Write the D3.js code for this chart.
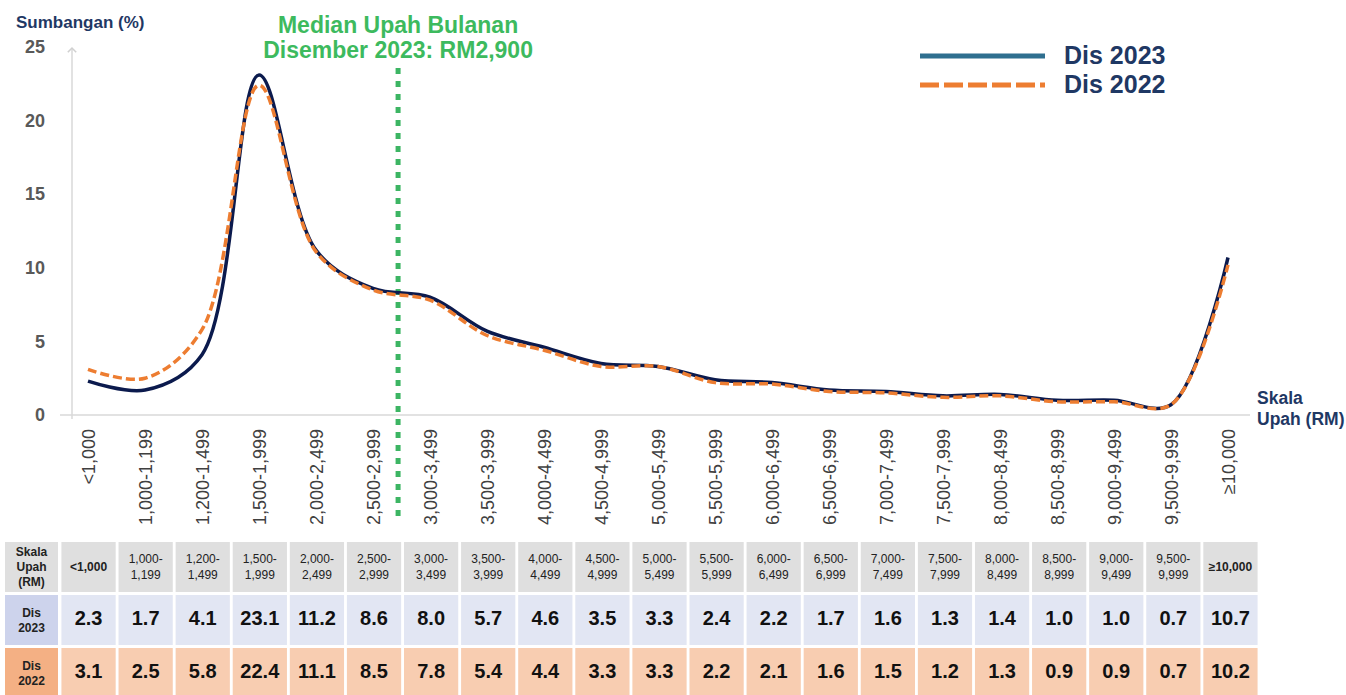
<!DOCTYPE html>
<html><head><meta charset="utf-8">
<script src="https://cdn.jsdelivr.net/npm/d3@7/dist/d3.min.js"></script>
<style>
html,body{margin:0;padding:0;background:#fff;}
svg{display:block;font-family:"Liberation Sans",Arial,sans-serif;}
</style></head>
<body><svg id="c" width="1346" height="695"></svg>
<script>
const categories = ["<1,000","1,000-1,199","1,200-1,499","1,500-1,999","2,000-2,499","2,500-2,999","3,000-3,499","3,500-3,999","4,000-4,499","4,500-4,999","5,000-5,499","5,500-5,999","6,000-6,499","6,500-6,999","7,000-7,499","7,500-7,999","8,000-8,499","8,500-8,999","9,000-9,499","9,500-9,999","≥10,000"];
const dis2023 = [2.3,1.7,4.1,23.1,11.2,8.6,8.0,5.7,4.6,3.5,3.3,2.4,2.2,1.7,1.6,1.3,1.4,1.0,1.0,0.7,10.7];
const dis2022 = [3.1,2.5,5.8,22.4,11.1,8.5,7.8,5.4,4.4,3.3,3.3,2.2,2.1,1.6,1.5,1.2,1.3,0.9,0.9,0.7,10.2];
const yTicks = [0,5,10,15,20,25];
const seriesNames = ["Dis 2023","Dis 2022"];
const medianIndex = 5.44; // RM2,900 position between category 2,500-2,999 and 3,000-3,499
const medianTitle = ["Median Upah Bulanan","Disember 2023: RM2,900"];

const svg = d3.select("#c");
const x = d3.scalePoint().domain(categories).range([88,1228]);
const xi = d3.scaleLinear().domain([0,categories.length-1]).range([88,1228]);
const y = d3.scaleLinear().domain([0,25]).range([415,47]);

// axes lines
svg.append("defs").append("marker").attr("id","arr").attr("viewBox","0 0 10 10")
  .attr("refX",5).attr("refY",5).attr("markerWidth",7).attr("markerHeight",7).attr("orient","auto")
  .append("path").attr("d","M1,1 L5,5 L1,9").attr("fill","none").attr("stroke","#d0d0d0").attr("stroke-width",1.5);
svg.append("line").attr("x1",60).attr("x2",1250).attr("y1",y(0)).attr("y2",y(0)).attr("stroke","#d9d9d9").attr("stroke-width",1.5);
svg.append("line").attr("x1",72).attr("x2",72).attr("y1",419).attr("y2",48).attr("stroke","#d9d9d9").attr("stroke-width",1.5).attr("marker-end","url(#arr)");

// y axis labels
const ya = svg.append("g").attr("transform","translate(72,0)")
  .call(d3.axisLeft(y).tickValues(yTicks).tickSize(0).tickPadding(27).tickFormat(d3.format("d")));
ya.select(".domain").remove();
ya.selectAll("text").attr("font-size",18).attr("font-weight","bold").attr("fill","#595959").attr("font-family","Liberation Sans, Arial, sans-serif");

// x axis labels
const xa = svg.append("g").attr("transform","translate(0,"+y(0)+")").call(d3.axisBottom(x).tickSize(0));
xa.select(".domain").remove();
xa.selectAll("text").attr("font-size",18).attr("fill","#404040").attr("font-family","Liberation Sans, Arial, sans-serif")
  .attr("transform","rotate(-90)").attr("text-anchor","end").attr("x",-14).attr("y",0).attr("dy","0.35em");

svg.append("text").attr("x",16).attr("y",28).text("Sumbangan (%)").attr("font-size",17).attr("font-weight","bold").attr("fill","#1f3864");
svg.append("text").attr("x",1257).attr("y",404).text("Skala").attr("font-size",17.5).attr("font-weight","bold").attr("fill","#1f3864");
svg.append("text").attr("x",1257).attr("y",425).text("Upah (RM)").attr("font-size",17.5).attr("font-weight","bold").attr("fill","#1f3864");

// median line
svg.append("line").attr("x1",xi(medianIndex)).attr("x2",xi(medianIndex)).attr("y1",68).attr("y2",522)
  .attr("stroke","#3cb563").attr("stroke-width",5).attr("stroke-dasharray","6 7");
medianTitle.forEach((t,i)=>svg.append("text").attr("x",xi(medianIndex)).attr("y",33+i*25).attr("text-anchor","middle")
  .text(t).attr("font-size",23).attr("font-weight","bold").attr("fill","#3dba5e"));

// lines
const line = d3.line().x((d,i)=>x(categories[i])).y(d=>y(d)).curve(d3.curveCatmullRom.alpha(0.5));
svg.append("path").datum(dis2023).attr("d",line).attr("fill","none").attr("stroke","#0b1a4d").attr("stroke-width",3.5);
svg.append("path").datum(dis2022).attr("d",line).attr("fill","none").attr("stroke","#ed7d31").attr("stroke-width",3.5).attr("stroke-dasharray","9 4");

// legend
svg.append("line").attr("x1",920).attr("x2",1045).attr("y1",56).attr("y2",56).attr("stroke","#2f6f8f").attr("stroke-width",5);
svg.append("line").attr("x1",920).attr("x2",1045).attr("y1",85).attr("y2",85).attr("stroke","#ed7d31").attr("stroke-width",5).attr("stroke-dasharray","19 5");
seriesNames.forEach((n,i)=>svg.append("text").attr("x",1064).attr("y",64+i*29).text(n)
  .attr("font-size",25).attr("font-weight","bold").attr("fill","#1f3864"));

// table
const tx = d3.scaleBand().domain(categories).range([60,1259]).paddingInner(0.05).paddingOuter(0.025);
const rows = [
  {top:542,h:50,bg:"#dfdfdf",hbg:"#dfdfdf",label:["Skala","Upah","(RM)"],vals:null},
  {top:595,h:50,bg:"#e2e6f3",hbg:"#cdd3ec",label:["Dis","2023"],vals:dis2023},
  {top:648,h:50,bg:"#f8cdb1",hbg:"#f4b084",label:["Dis","2022"],vals:dis2022}
];
rows.forEach(r=>{
  const g = svg.append("g");
  g.append("rect").attr("x",5).attr("y",r.top).attr("width",53).attr("height",r.h).attr("fill",r.hbg);
  const n = r.label.length, lh = 15;
  r.label.forEach((t,k)=>g.append("text").attr("x",31.5).attr("y",r.top+r.h/2+(k-(n-1)/2)*lh+4).attr("text-anchor","middle")
    .text(t).attr("font-size",12).attr("font-weight","bold").attr("fill","#222"));
  categories.forEach((c,i)=>{
    g.append("rect").attr("x",tx(c)).attr("y",r.top).attr("width",tx.bandwidth()).attr("height",r.h).attr("fill",r.bg);
    const cx = tx(c)+tx.bandwidth()/2;
    if(r.vals){
      g.append("text").attr("x",cx).attr("y",r.top+r.h/2+5).attr("text-anchor","middle").text(r.vals[i].toFixed(1))
        .attr("font-size",20).attr("font-weight","bold").attr("fill","#111");
    } else {
      const parts = c.includes("-") ? [c.split("-")[0]+"-", c.split("-")[1]] : [c];
      parts.forEach((p,k)=>g.append("text").attr("x",cx).attr("y",r.top+r.h/2+(k-(parts.length-1)/2)*16+4).attr("text-anchor","middle")
        .text(p).attr("font-size",12).attr("font-weight", parts.length>1?"normal":"bold").attr("fill","#222"));
    }
  });
});
</script></body></html>
